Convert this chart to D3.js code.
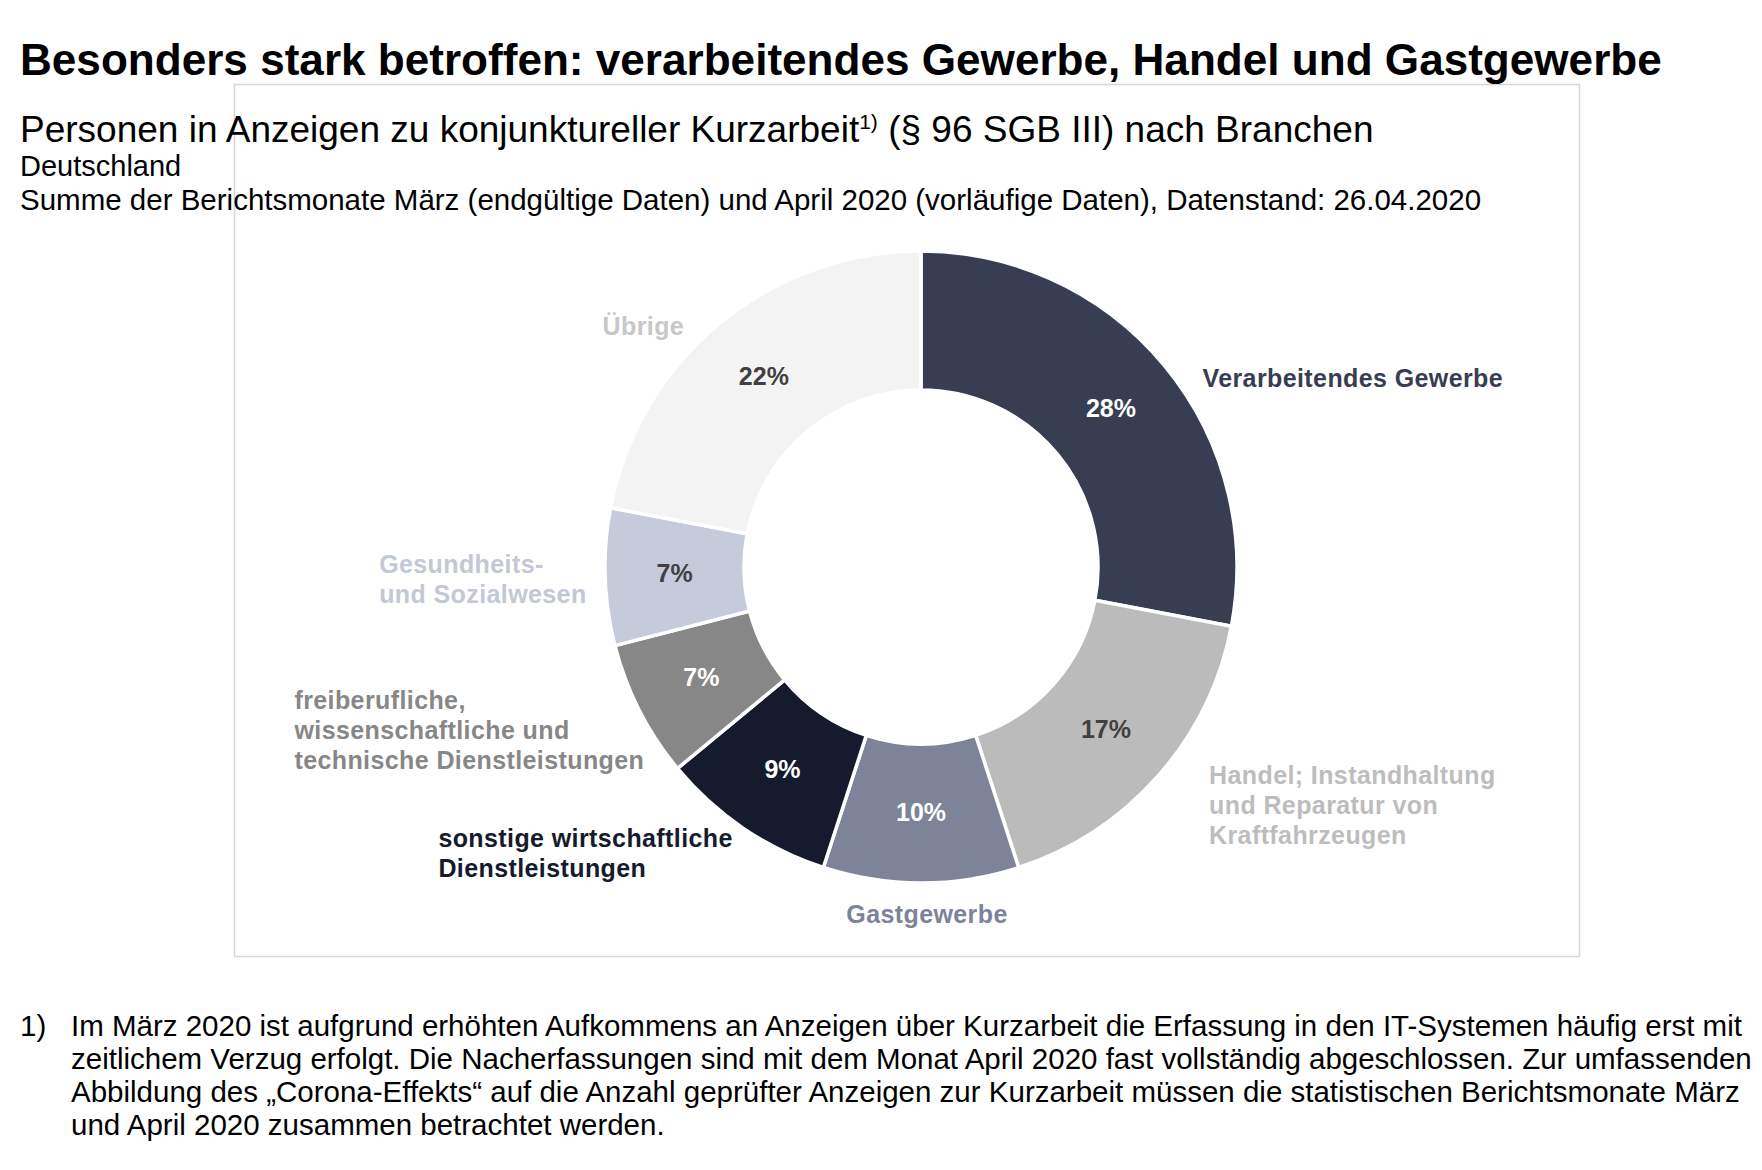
<!DOCTYPE html>
<html>
<head>
<meta charset="utf-8">
<script src="https://cdn.jsdelivr.net/npm/d3@7"></script>
<style>
  body { margin: 0; background: #fff; }
  svg text { font-family: "Liberation Sans", Arial, sans-serif; }
</style>
</head>
<body>
<svg id="chart" width="1762" height="1170"></svg>
<script>
// branches, clockwise from 12 o'clock
var branches = [
    "Verarbeitendes Gewerbe",
    "Handel; Instandhaltung und Reparatur von Kraftfahrzeugen",
    "Gastgewerbe",
    "sonstige wirtschaftliche Dienstleistungen",
    "freiberufliche, wissenschaftliche und technische Dienstleistungen",
    "Gesundheits- und Sozialwesen",
    "Übrige"
];
// shares in percent
var shares = [28, 17, 10, 9, 7, 7, 22];
// label lines as drawn in the chart
var labelLines = [
    ["Verarbeitendes Gewerbe"],
    ["Handel; Instandhaltung", "und Reparatur von", "Kraftfahrzeugen"],
    ["Gastgewerbe"],
    ["sonstige wirtschaftliche", "Dienstleistungen"],
    ["freiberufliche,", "wissenschaftliche und", "technische Dienstleistungen"],
    ["Gesundheits-", "und Sozialwesen"],
    ["Übrige"]
];
var footnoteLines = [
    "Im März 2020 ist aufgrund erhöhten Aufkommens an Anzeigen über Kurzarbeit die Erfassung in den IT-Systemen häufig erst mit",
    "zeitlichem Verzug erfolgt. Die Nacherfassungen sind mit dem Monat April 2020 fast vollständig abgeschlossen. Zur umfassenden",
    "Abbildung des „Corona-Effekts“ auf die Anzahl geprüfter Anzeigen zur Kurzarbeit müssen die statistischen Berichtsmonate März",
    "und April 2020 zusammen betrachtet werden."
];

var sliceColors = ["#383e51", "#bbbbbb", "#7d8398", "#151a2d", "#878787", "#c5cbdb", "#f3f3f3"];
var labelColors = ["#383e51", "#bdbdbd", "#7d8398", "#151a2d", "#878787", "#c3c8d7", "#c8c8c8"];
var pctColors   = ["#ffffff", "#404040", "#ffffff", "#ffffff", "#ffffff", "#404040", "#404040"];

var svg = d3.select("#chart");

// chart frame
svg.append("rect")
    .attr("x", 234.5).attr("y", 84.5)
    .attr("width", 1345).attr("height", 872)
    .attr("fill", "none")
    .attr("stroke", "#d6d6d6")
    .attr("stroke-width", 1.5);

// headings
svg.append("text")
    .attr("x", 20).attr("y", 75)
    .attr("font-size", 44.1).attr("font-weight", "bold")
    .text("Besonders stark betroffen: verarbeitendes Gewerbe, Handel und Gastgewerbe");

var sub = svg.append("text")
    .attr("x", 20).attr("y", 142)
    .attr("font-size", 37);
sub.append("tspan").text("Personen in Anzeigen zu konjunktureller Kurzarbeit");
sub.append("tspan").attr("font-size", 21).attr("dy", -13).text("1)");
sub.append("tspan").attr("dy", 13).text(" (§ 96 SGB III) nach Branchen");

svg.append("text")
    .attr("x", 20).attr("y", 176)
    .attr("font-size", 29)
    .text("Deutschland");

svg.append("text")
    .attr("x", 20).attr("y", 210)
    .attr("font-size", 29.5)
    .text("Summe der Berichtsmonate März (endgültige Daten) und April 2020 (vorläufige Daten), Datenstand: 26.04.2020");

// donut
var cx = 921, cy = 567, outerR = 316, innerR = 177;

var pie = d3.pie().sort(null).value(function (d) { return d; });
var arcs = pie(shares);

var arc = d3.arc().innerRadius(innerR).outerRadius(outerR);
var edgeArc = d3.arc().innerRadius(outerR).outerRadius(outerR);

var g = svg.append("g")
    .attr("transform", "translate(" + cx + "," + cy + ")");

g.selectAll(".slice")
    .data(arcs)
    .enter().append("path")
    .attr("class", "slice")
    .attr("d", arc)
    .attr("fill", function (d, i) { return sliceColors[i]; })
    .attr("stroke", "#fff")
    .attr("stroke-width", 3.5)
    .attr("stroke-linejoin", "round");

g.selectAll(".pct")
    .data(arcs)
    .enter().append("text")
    .attr("class", "pct")
    .attr("transform", function (d) { return "translate(" + arc.centroid(d) + ")"; })
    .attr("dy", "0.3em")
    .attr("text-anchor", "middle")
    .attr("font-size", 25)
    .attr("font-weight", "bold")
    .attr("fill", function (d, i) { return pctColors[i]; })
    .text(function (d) { return d.value + "%"; });

// outer labels: offset from the slice's outer edge at its mid angle
var labelOffsets = [[38, 21], [51, 8], [6, 40], [-305, 19], [-345, -1], [-226, -4], [-117, 11]];
var labelAnchors = ["start", "start", "middle", "start", "start", "start", "start"];
var lineH = 30;

g.selectAll(".lab")
    .data(arcs)
    .enter().append("text")
    .attr("class", "lab")
    .attr("transform", function (d, i) {
        var p = edgeArc.centroid(d);
        return "translate(" + (p[0] + labelOffsets[i][0]) + "," + (p[1] + labelOffsets[i][1]) + ")";
    })
    .attr("text-anchor", function (d, i) { return labelAnchors[i]; })
    .attr("font-size", 25)
    .attr("font-weight", "bold")
    .attr("letter-spacing", 0.4)
    .attr("fill", function (d, i) { return labelColors[i]; })
    .each(function (d, i) {
        var t = d3.select(this);
        labelLines[i].forEach(function (line, k) {
            t.append("tspan").attr("x", 0).attr("y", k * lineH).text(line);
        });
    });

// footnote
svg.append("text")
    .attr("x", 20).attr("y", 1036)
    .attr("font-size", 29.5)
    .text("1)");

svg.append("g").selectAll("text")
    .data(footnoteLines)
    .enter().append("text")
    .attr("x", 71)
    .attr("y", function (d, i) { return 1036 + i * 33; })
    .attr("font-size", 29.5)
    .text(function (d) { return d; });
</script>
</body>
</html>
